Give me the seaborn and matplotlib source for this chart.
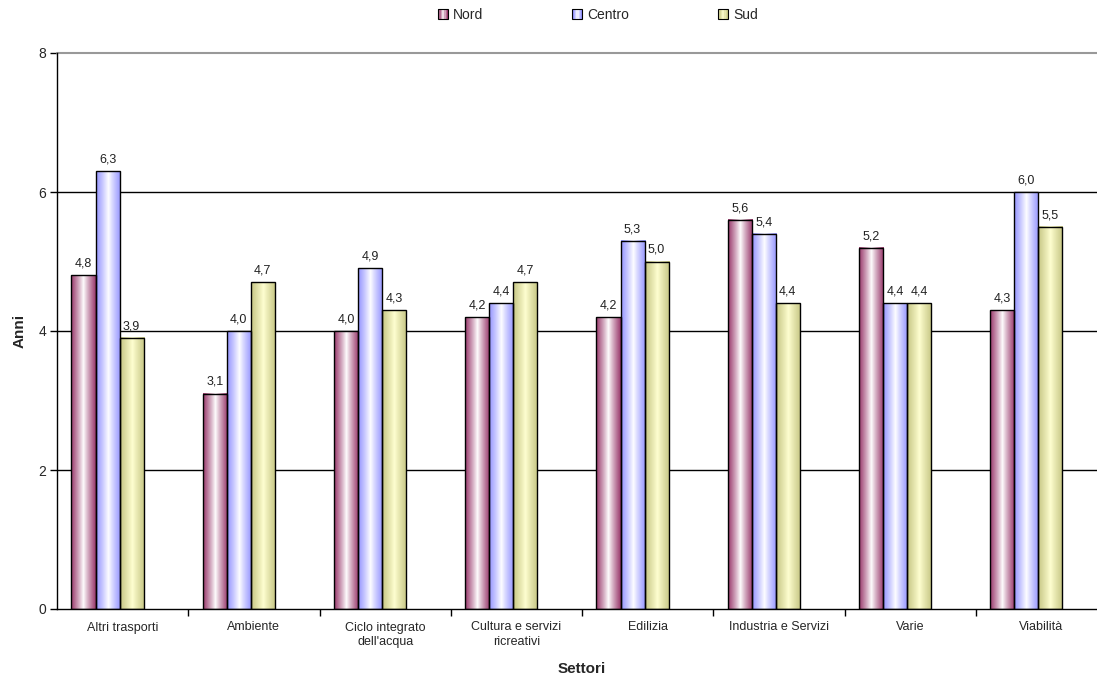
import numpy as np
import pandas as pd
import matplotlib
matplotlib.use("Agg")
import matplotlib.pyplot as plt
from matplotlib.legend_handler import HandlerBase
from matplotlib.patches import Rectangle, Patch
import seaborn as sns

# Data
settori = ["Altri trasporti", "Ambiente", "Ciclo integrato\ndell'acqua",
           "Cultura e servizi\nricreativi", "Edilizia", "Industria e Servizi",
           "Varie", "Viabilità"]
aree = ["Nord", "Centro", "Sud"]
nord = [4.8, 3.1, 4.0, 4.2, 4.2, 5.6, 5.2, 4.3]
centro = [6.3, 4.0, 4.9, 4.4, 5.3, 5.4, 4.4, 6.0]
sud = [3.9, 4.7, 4.3, 4.7, 5.0, 4.4, 4.4, 5.5]
y_ticks = [0, 2, 4, 6, 8]

df = pd.DataFrame({
    "Settore": settori * 3,
    "Area": [a for a in aree for _ in settori],
    "Anni": nord + centro + sud,
})

# Gradient colours: edge colour -> centre colour -> edge colour
edge_cols = {"Nord": (0.60, 0.22, 0.42), "Centro": (0.58, 0.58, 1.0), "Sud": (0.78, 0.78, 0.52)}
mid_cols = {"Nord": (1.0, 1.0, 1.0), "Centro": (1.0, 1.0, 1.0), "Sud": (1.0, 1.0, 0.82)}


def gradient_row(area, n=64):
    t = np.linspace(0, 1, n)
    f = np.abs(2 * t - 1) ** 0.9
    e = np.array(edge_cols[area])
    m = np.array(mid_cols[area])
    return (m[None, :] + (e - m)[None, :] * f[:, None])[None, :, :]


sns.set_theme(style="white")
plt.rcParams["font.family"] = ["Liberation Sans", "DejaVu Sans"]

fig = plt.figure(figsize=(10.97, 6.77), dpi=100)
ax = fig.add_axes([57 / 1097, 68 / 677, 1050 / 1097, 556 / 677])

sns.barplot(data=df, x="Settore", y="Anni", hue="Area", order=settori,
            hue_order=aree, width=0.55, dodge=True, ax=ax, legend=False,
            palette=["#993366", "#9999FF", "#FFFFCC"], saturation=1)

shift = -0.115
for cont, area in zip(ax.containers, aree):
    for p in cont.patches:
        p.set_x(p.get_x() + shift)
        x0, w, h = p.get_x(), p.get_width(), p.get_height()
        ax.imshow(gradient_row(area), extent=[x0, x0 + w, 0, h], aspect="auto",
                  interpolation="bilinear", zorder=2)
        p.set_facecolor("none")
        p.set_edgecolor("black")
        p.set_linewidth(1.0)
        p.set_zorder(3)
    ax.bar_label(cont, labels=[f"{v:.1f}".replace(".", ",") for v in cont.datavalues],
                 padding=4, fontsize=9, color="#222222")

ax.set_xlim(-0.5, 7.5)
ax.set_ylim(0, 8)
ax.set_yticks(y_ticks)
ax.set_yticklabels([str(v) for v in y_ticks], fontsize=10)
ax.set_xticks(range(len(settori)))
ax.set_xticklabels(settori, fontsize=9, linespacing=1.3)
ax.set_xticks(np.arange(0.5, 7.5, 1), minor=True)
ax.tick_params(axis="x", which="major", length=0, pad=9)
ax.tick_params(axis="x", which="minor", length=5, width=1, color="black", direction="out", bottom=True)
ax.tick_params(axis="y", length=5, width=1, color="black", direction="out", left=True, pad=3)

for yv in y_ticks[1:-1]:
    ax.axhline(yv, color="black", lw=1, zorder=1)
ax.axhline(8, color="#999999", lw=1.5, zorder=1, clip_on=False)

for s in ["top", "right"]:
    ax.spines[s].set_visible(False)
for s in ["left", "bottom"]:
    ax.spines[s].set_color("black")
    ax.spines[s].set_linewidth(1)
ax.grid(False)

ax.set_ylabel("Anni", fontsize=11, fontweight="bold", labelpad=8)
ax.set_xlabel("Settori", fontsize=11, fontweight="bold", labelpad=10)


class GradientHandler(HandlerBase):
    def create_artists(self, legend, orig_handle, xdescent, ydescent, width,
                       height, fontsize, trans):
        area = orig_handle.get_label()
        size = min(width, height)
        x0 = -xdescent + (width - size) / 2
        y0 = -ydescent + (height - size) / 2
        row = gradient_row(area, 8)[0]
        arts = []
        n = len(row)
        for i, c in enumerate(row):
            arts.append(Rectangle((x0 + i * size / n, y0), size / n, size,
                                  facecolor=c, edgecolor="none", transform=trans))
        arts.append(Rectangle((x0, y0), size, size, facecolor="none",
                              edgecolor="black", lw=0.8, transform=trans))
        return arts


handles = [Patch(label=a) for a in aree]
fig.legend(handles=handles, labels=aree, loc="center", bbox_to_anchor=(598 / 1097, 1 - 15 / 677),
           ncol=3, frameon=False, fontsize=10, handlelength=0.72, handleheight=0.72,
           handletextpad=0.36, columnspacing=6.4, borderpad=0,
           handler_map={Patch: GradientHandler()})

fig.savefig("out.png", dpi=100)
